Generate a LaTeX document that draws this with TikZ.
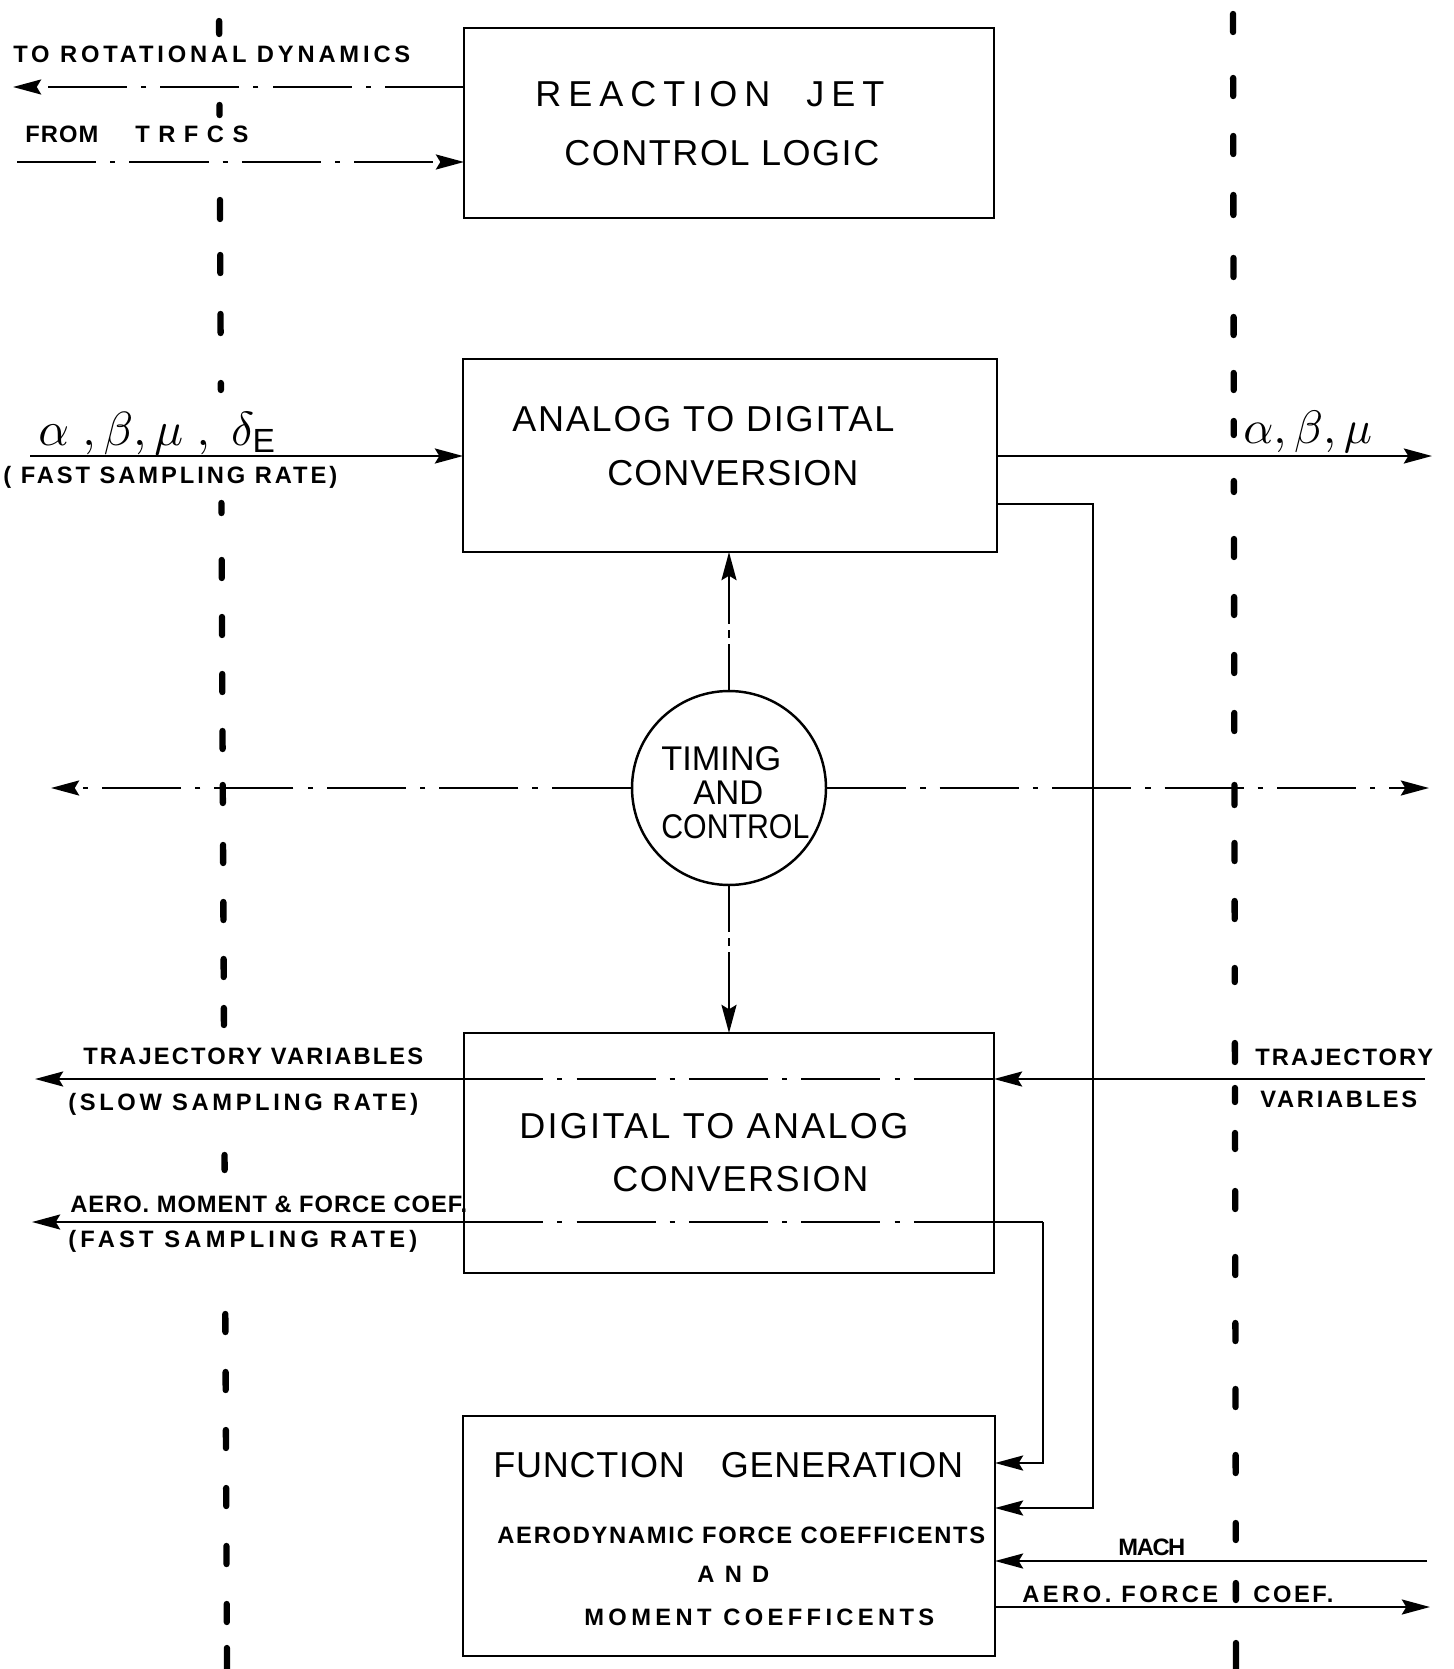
\documentclass[tikz,border=0pt]{standalone}
\usepackage{graphicx}
\usepackage{fontspec}
\setmainfont{Liberation Sans}
\usetikzlibrary{arrows.meta}

% text sizes: box titles, circle text and small bold labels
\newcommand\ttlsize{\fontsize{20.5}{24}\selectfont}
\newcommand\tcsize{\fontsize{19.5}{22}\selectfont}
\newcommand\lblsize{\fontsize{13.5}{16}\selectfont\bfseries}

% one drawing unit
\newlength\drawu
\setlength\drawu{0.02cm}

% set #2 letter-spaced so that it is #1 drawing units wide
\newlength\fitwa
\newlength\fitwb
\newcommand\fitto[2]{%
  \settowidth\fitwa{#2}%
  \settowidth\fitwb{\addfontfeatures{LetterSpace=50}#2}%
  \ifdim\dimexpr\fitwb-\fitwa\relax>1pt
    \pgfmathsetmacro\lsval{50*(#1*0.569055-\the\fitwa)/(\the\fitwb-\the\fitwa)}%
    \edef\lsdo{\noexpand\addfontfeatures{LetterSpace=\lsval}}\lsdo #2%
  \else #2\fi}
% squeeze #2 horizontally to #1 drawing units
\newcommand\sqto[2]{\resizebox{#1\drawu}{\height}{#2}}

\tikzset{
  >={Stealth[length=16pt,width=8.5pt,inset=2.5pt]},
  box/.style={draw, line width=1.6pt, inner sep=0pt, outer sep=0pt},
  ttl/.style={anchor=base west, inner sep=0pt, font=\ttlsize},
  tct/.style={anchor=base west, inner sep=0pt, font=\tcsize},
  lbl/.style={anchor=base west, inner sep=0pt, font=\lblsize},
  conn/.style={line width=1.6pt},
  dd/.style={dash pattern=on 45pt off 8pt on 3pt off 8pt},
  ddv/.style={dash pattern=on 26pt off 3.5pt on 4.5pt off 3.5pt on 200pt off 1pt},
  vbar/.style={line width=3.6pt, line cap=round},
}

\begin{document}
\begin{tikzpicture}[x=0.02cm,y=-0.02cm]
\useasboundingbox (0,0) rectangle (1453,1669);
\fill[white] (0,0) rectangle (1453,1669);

% partition lines, drawn dash by dash
\foreach \a/\b in {21/34,105/115,200/219,255/273,314/333,383/390,503/513,
    560/578,617/635,674/692,731/749,785/803,845/863,902/920,959/977,1008/1025,
    1155/1170,1314/1332,1372/1390,1430/1448,1488/1506,1546/1564,1604/1622,1648/1669}
  \draw[vbar] ({219+0.0048*\a},\a) -- ({219+0.0048*\b},\b);
\foreach \a/\b in {14/32,78/96,136/154,195/215,258/277,317/335,373/390,421/435,
    481/492,539/557,597/615,655/673,713/731,785/805,843/861,901/919,968/982,
    1043/1062,1088/1102,1133/1149,1191/1209,1257/1275,1323/1341,1389/1407,
    1455/1473,1523/1540,1583/1600,1643/1669}
  \draw[vbar] ({1233+0.0018*\a},\a) -- ({1233+0.0018*\b},\b);

% blocks
\node[box, minimum width=10.6cm,  minimum height=3.8cm]  (rjc) at (729,123) {};
\node[box, minimum width=10.68cm, minimum height=3.86cm] (adc) at (730,455.5) {};
\node[box, minimum width=10.6cm,  minimum height=4.8cm]  (dac) at (729,1153) {};
\node[box, minimum width=10.64cm, minimum height=4.8cm]  (fg)  at (729,1536) {};
\node[draw, circle, line width=1.4pt, minimum size=3.88cm, inner sep=0pt] (tc) at (729,788) {};

% block titles
\node[ttl] (rjc1) at (535,107)  {\fitto{349}{REACTION\quad JET}};
\node[ttl] (rjc2) at (564,166)  {\fitto{315}{CONTROL LOGIC}};
\node[ttl] (adc1) at (512,431)  {\fitto{382}{ANALOG TO DIGITAL}};
\node[ttl] (adc2) at (607,485)  {\fitto{251}{CONVERSION}};
\node[ttl] (dac1) at (519,1138) {\fitto{389}{DIGITAL TO ANALOG}};
\node[ttl] (dac2) at (612,1191) {\fitto{256}{CONVERSION}};
\node[ttl] (fg1)  at (493,1477) {\fitto{470}{FUNCTION\quad GENERATION}};
\node[lbl] (fg2)  at (497,1543) {\fitto{488}{AERODYNAMIC FORCE COEFFICENTS}};
\node[lbl] (fg3)  at (697,1582) {\fitto{72}{AND}};
\node[lbl] (fg4)  at (584,1625) {\fitto{350}{MOMENT\enspace COEFFICENTS}};
\node[tct] (tc1)  at (661,770)  {\sqto{120}{TIMING}};
\node[tct] (tc2)  at (693,804)  {\sqto{70}{AND}};
\node[tct] (tc3)  at (661,838)  {\sqto{148}{CONTROL}};

% reaction jet control logic links
\coordinate (rdL) at (13,87);
\coordinate (trfL) at (17,162);
\draw[conn,dd,->] (rdL -| rjc.west) -- (rdL);
\draw[conn,dd,->] (trfL) -- (trfL -| rjc.west);
\node[lbl] (l1) at (13,63)  {\fitto{397}{TO ROTATIONAL DYNAMICS}};
\node[lbl] (l2) at (25,143) {\fitto{73}{FROM}};
\node[lbl] (l3) at (135,143) {\fitto{113}{TRFCS}};

% analog to digital links
\coordinate (aiL) at (30,456);
\coordinate (aoR) at (1432,456);
\coordinate (afA) at (1093,504);
\coordinate (afB) at (1093,1508);
\draw[conn,->] (aiL) -- (aiL -| adc.west);
\draw[conn,->] (aoR -| adc.east) -- (aoR);
\draw[conn,->] (afA -| adc.east) -- (afA) -- (afB) -- (afB -| fg.east);
\node[anchor=base west, inner sep=0pt] (gin) at (38,445)
  {\resizebox{4.78cm}{!}{$\alpha\ ,\beta,\mu\ ,\ \delta_{\mathrm{E}}$}};
\node[lbl] (l4) at (3,483) {\fitto{334}{( FAST SAMPLING RATE)}};
\node[anchor=base west, inner sep=0pt] (gout) at (1243,443)
  {\resizebox{2.58cm}{!}{$\alpha,\beta,\mu$}};

% timing and control links
\coordinate (tL) at (51,788);
\coordinate (tR) at (1429,788);
\draw[conn,dd,->] (tc.west) -- (tL);
\draw[conn,dd,->] (tc.east) -- (tR);
\draw[conn,ddv,->] (tc.north) -- (tc.north |- adc.south);
\draw[conn,ddv,->] (tc.south) -- (tc.south |- dac.north);

% digital to analog links
\coordinate (trL) at (35,1079);
\coordinate (trR) at (1425,1079);
\draw[conn,->] (trR) -- (trR -| dac.east);
\draw[conn,dd] (trL -| dac.west) -- (trR -| dac.east);
\draw[conn,->] (trL -| dac.west) -- (trL);
\coordinate (aeL) at (32,1222);
\coordinate (aeK) at (1043,1222);
\coordinate (aeF) at (1043,1463);
\draw[conn] (aeK) -- (aeK -| dac.east);
\draw[conn,dd] (aeL -| dac.west) -- (aeK -| dac.east);
\draw[conn,->] (aeL -| dac.west) -- (aeL);
\draw[conn,->] (aeK) -- (aeF) -- (aeF -| fg.east);
\node[lbl] (l5) at (83,1064)   {\fitto{340}{TRAJECTORY VARIABLES}};
\node[lbl] (l6) at (68,1110)   {\fitto{350}{(SLOW SAMPLING RATE)}};
\node[lbl] (l7) at (70,1212)   {\fitto{397}{AERO. MOMENT \& FORCE COEF.}};
\node[lbl] (l8) at (68,1247)   {\fitto{349}{(FAST SAMPLING RATE)}};
\node[lbl] (l9) at (1255,1065) {\fitto{178}{TRAJECTORY}};
\node[lbl] (l10) at (1260,1107) {\fitto{157}{VARIABLES}};

% function generation links
\coordinate (mR) at (1427,1561);
\coordinate (fR) at (1430,1607);
\draw[conn,->] (mR) -- (mR -| fg.east);
\draw[conn,->] (fR -| fg.east) -- (fR);
\node[lbl] (l11) at (1118,1555) {\fitto{67}{MACH}};
\node[lbl] (l12) at (1022,1602) {\fitto{196}{AERO. FORCE}};
\node[lbl] (l13) at (1253,1602) {\fitto{80}{COEF.}};
\end{tikzpicture}
\end{document}
